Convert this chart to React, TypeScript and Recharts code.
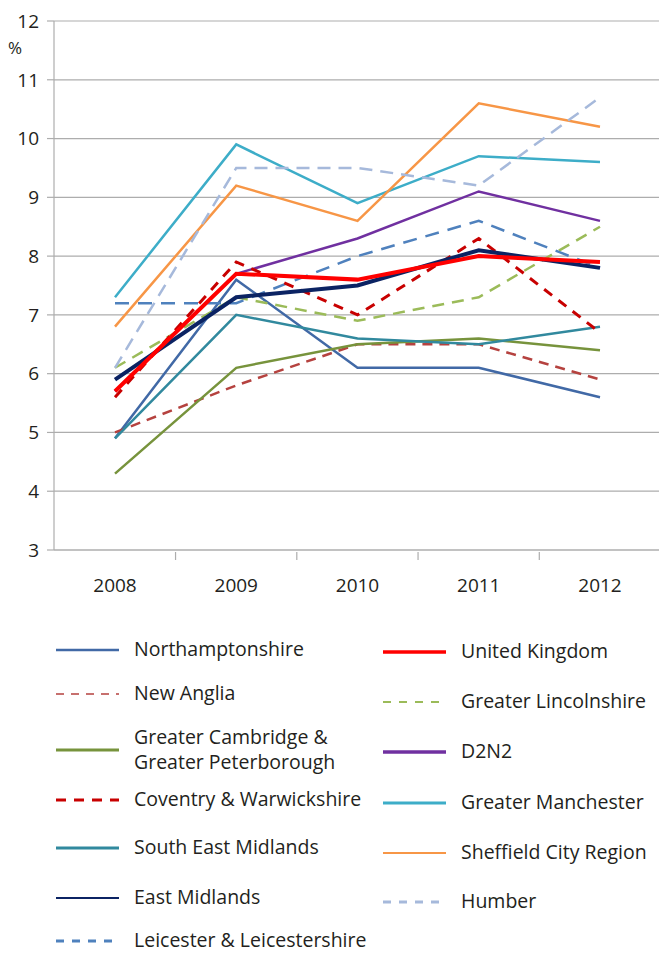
import { LineChart, Line, XAxis, YAxis, CartesianGrid } from "recharts";

// unemployment rate (%) by area, 2008-2012
const years = ["2008", "2009", "2010", "2011", "2012"];
const northamptonshire = [4.9, 7.6, 6.1, 6.1, 5.6];
const newAnglia = [5.0, 5.8, 6.5, 6.5, 5.9];
const greaterCambridge = [4.3, 6.1, 6.5, 6.6, 6.4];
const coventry = [5.6, 7.9, 7.0, 8.3, 6.7];
const southEastMidlands = [4.9, 7.0, 6.6, 6.5, 6.8];
const eastMidlands = [5.9, 7.3, 7.5, 8.1, 7.8];
const leicester = [7.2, 7.2, 8.0, 8.6, 7.8];
const unitedKingdom = [5.7, 7.7, 7.6, 8.0, 7.9];
const greaterLincolnshire = [6.1, 7.3, 6.9, 7.3, 8.5];
const d2n2 = [5.7, 7.7, 8.3, 9.1, 8.6];
const greaterManchester = [7.3, 9.9, 8.9, 9.7, 9.6];
const sheffield = [6.8, 9.2, 8.6, 10.6, 10.2];
const humber = [6.1, 9.5, 9.5, 9.2, 10.7];
const yTicks = [3, 4, 5, 6, 7, 8, 9, 10, 11, 12];

const FONT = "'Open Sans', sans-serif";
const TEXT = "#231F20";
const GRID = "#ADADAD";

const series = [
  { key: "nh", name: ["Northamptonshire"], values: northamptonshire, color: "#4169A6", w: 2.5, dash: undefined, lw: 2.5, ld: undefined },
  { key: "na", name: ["New Anglia"], values: newAnglia, color: "#B5423F", w: 2.5, dash: "10 7", lw: 1.5, ld: "8 7" },
  { key: "gc", name: ["Greater Cambridge &", "Greater Peterborough"], values: greaterCambridge, color: "#77933C", w: 2.5, dash: undefined, lw: 3, ld: undefined },
  { key: "sem", name: ["South East Midlands"], values: southEastMidlands, color: "#31899E", w: 2.5, dash: undefined, lw: 3, ld: undefined },
  { key: "gl", name: ["Greater Lincolnshire"], values: greaterLincolnshire, color: "#9BBB59", w: 2.5, dash: "12 8", lw: 2, ld: "8 8" },
  { key: "d2", name: ["D2N2"], values: d2n2, color: "#7030A0", w: 2.5, dash: undefined, lw: 3.5, ld: undefined },
  { key: "gm", name: ["Greater Manchester"], values: greaterManchester, color: "#3DADC8", w: 2.5, dash: undefined, lw: 3, ld: undefined },
  { key: "sh", name: ["Sheffield City Region"], values: sheffield, color: "#F79646", w: 2.5, dash: undefined, lw: 2, ld: undefined },
  { key: "hu", name: ["Humber"], values: humber, color: "#A6B9DB", w: 2.5, dash: "13 8", lw: 3, ld: "8 8" },
  { key: "le", name: ["Leicester & Leicestershire"], values: leicester, color: "#4F81BD", w: 2.5, dash: "14 9", lw: 3, ld: "8 8" },
  { key: "cw", name: ["Coventry & Warwickshire"], values: coventry, color: "#C80000", w: 3, dash: "10 8", lw: 3, ld: "10 8" },
  { key: "em", name: ["East Midlands"], values: eastMidlands, color: "#0B2363", w: 4, dash: undefined, lw: 2, ld: undefined },
  { key: "uk", name: ["United Kingdom"], values: unitedKingdom, color: "#FF0000", w: 4, dash: undefined, lw: 3.5, ld: undefined },
];

// legend order, two columns
const leftCol = ["nh", "na", "gc", "cw", "sem", "em", "le"];
const rightCol = ["uk", "gl", "d2", "gm", "sh", "hu"];
const leftRowY = [650, 694, 750, 800, 848, 898, 941];
const rightRowY = [652, 702, 752, 803, 853, 902];

const data = years.map((year, i) => {
  const row: any = { year };
  series.forEach((s) => {
    row[s.key] = s.values[i];
  });
  return row;
});

const YearTick = (props: any) => {
  const { x, y, payload, index } = props;
  const half = 60.7;
  return (
    <g>
      {index > 0 && <line x1={x - half} x2={x - half} y1={y} y2={y + 8} stroke={GRID} strokeWidth={1.2} />}
      <text x={x} y={y + 40} textAnchor="middle" fill={TEXT} fontSize={19} fontFamily={FONT}>
        {payload.value}
      </text>
    </g>
  );
};

function LegendItem({ k, x, y }: { k: string; x: number; y: number }) {
  const s = series.find((d) => d.key === k)!;
  const lines = s.name;
  return (
    <g>
      <line x1={x} x2={x + 63} y1={y} y2={y} stroke={s.color} strokeWidth={s.lw} strokeDasharray={s.ld} />
      {lines.map((t, i) => (
        <text
          key={i}
          x={x + 78}
          y={y + 6 + (i - (lines.length - 1) / 2) * 25}
          fill={TEXT}
          fontSize={19.5}
          fontFamily={FONT}
        >
          {t}
        </text>
      ))}
    </g>
  );
}

export default function App() {
  return (
    <div style={{ position: "absolute", left: 0, top: 0, width: 659, height: 953, overflow: "hidden", background: "#fff" }}>
      <LineChart width={661} height={600} data={data} margin={{ top: 21, right: 0, bottom: 0, left: 0 }}>
        <CartesianGrid vertical={false} stroke={GRID} strokeWidth={1.2} />
        <XAxis
          dataKey="year"
          height={50}
          padding={{ left: 61, right: 61 }}
          interval={0}
          tickSize={0}
          tickLine={false}
          axisLine={{ stroke: GRID, strokeWidth: 1.2 }}
          tick={<YearTick />}
        />
        <YAxis
          width={54}
          domain={[3, 12]}
          ticks={yTicks}
          interval={0}
          tickSize={7}
          tickMargin={8}
          axisLine={{ stroke: GRID, strokeWidth: 1.2 }}
          tickLine={{ stroke: GRID, strokeWidth: 1.2 }}
          tick={{ fill: TEXT, fontSize: 19, fontFamily: FONT }}
        />
        {series.map((s) => (
          <Line
            key={s.key}
            dataKey={s.key}
            name={s.name.join(" ")}
            type="linear"
            stroke={s.color}
            strokeWidth={s.w}
            strokeDasharray={s.dash}
            dot={false}
            activeDot={false}
            isAnimationActive={false}
          />
        ))}
      </LineChart>
      <svg width={659} height={953} style={{ position: "absolute", left: 0, top: 0, pointerEvents: "none" }}>
        <text x={8} y={54} fill={TEXT} fontSize={17} fontFamily={FONT}>
          %
        </text>
        {leftCol.map((k, i) => (
          <LegendItem key={k} k={k} x={56} y={leftRowY[i]} />
        ))}
        {rightCol.map((k, i) => (
          <LegendItem key={k} k={k} x={383} y={rightRowY[i]} />
        ))}
      </svg>
    </div>
  );
}
